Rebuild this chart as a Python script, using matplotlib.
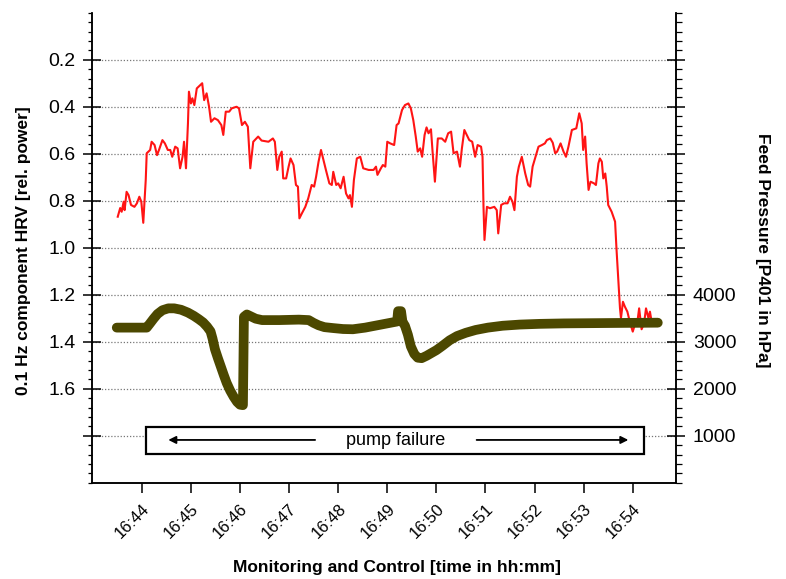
import matplotlib
matplotlib.use("Agg")
import matplotlib.pyplot as plt
from matplotlib.patches import Rectangle
from matplotlib.ticker import FixedLocator, MultipleLocator, FuncFormatter

plt.rcParams['font.family'] = ['Liberation Sans', 'DejaVu Sans']

# time axis in minutes after 16:00
tick_minutes = [44, 45, 46, 47, 48, 49, 50, 51, 52, 53, 54]
tick_labels = ['16:44', '16:45', '16:46', '16:47', '16:48', '16:49',
               '16:50', '16:51', '16:52', '16:53', '16:54']

# 0.1 Hz HRV component (rel. power), left axis (inverted)
hrv_time = [43.51, 43.56, 43.59, 43.63, 43.65, 43.69, 43.73, 43.78, 43.85, 43.90,
            43.95, 43.99, 44.03, 44.08, 44.10, 44.17, 44.20, 44.26, 44.31, 44.35,
            44.42, 44.47, 44.53, 44.58, 44.62, 44.68, 44.73, 44.78, 44.83, 44.86,
            44.90, 44.94, 44.96, 45.00, 45.03, 45.07, 45.12, 45.19, 45.23, 45.27,
            45.32, 45.37, 45.41, 45.48, 45.55, 45.62, 45.66, 45.71, 45.78, 45.83,
            45.93, 45.98, 46.04, 46.10, 46.16, 46.21, 46.27, 46.37, 46.44, 46.58,
            46.67, 46.71, 46.76, 46.80, 46.85, 46.88, 46.94, 46.99, 47.03, 47.09,
            47.14, 47.18, 47.21, 47.26, 47.33, 47.39, 47.46, 47.51, 47.55, 47.60,
            47.65, 47.70, 47.75, 47.82, 47.87, 47.90, 47.96, 48.00, 48.05, 48.11,
            48.16, 48.21, 48.24, 48.28, 48.32, 48.38, 48.45, 48.51, 48.62, 48.72,
            48.77, 48.80, 48.87, 48.91, 48.96, 49.00, 49.06, 49.14, 49.19, 49.23,
            49.30, 49.36, 49.43, 49.48, 49.53, 49.58, 49.62, 49.67, 49.71, 49.76,
            49.80, 49.84, 49.89, 49.92, 49.97, 50.03, 50.11, 50.18, 50.24, 50.30,
            50.35, 50.42, 50.48, 50.52, 50.57, 50.62, 50.67, 50.73, 50.79, 50.84,
            50.91, 50.94, 50.96, 50.98, 51.03, 51.09, 51.18, 51.23, 51.26, 51.32,
            51.38, 51.45, 51.50, 51.55, 51.59, 51.64, 51.68, 51.74, 51.81, 51.87,
            51.91, 51.96, 52.01, 52.08, 52.15, 52.21, 52.25, 52.32, 52.37, 52.42,
            52.46, 52.53, 52.59, 52.64, 52.69, 52.76, 52.85, 52.87, 52.91, 52.96,
            52.99, 53.03, 53.06, 53.10, 53.14, 53.21, 53.25, 53.30, 53.33, 53.37,
            53.40, 53.44, 53.47, 53.50, 53.57, 53.64, 53.67, 53.71, 53.74, 53.76,
            53.80, 53.84, 53.89, 53.94, 54.00, 54.04, 54.09, 54.13, 54.18, 54.23,
            54.27, 54.32, 54.35, 54.39, 54.45]
hrv_power = [0.868, 0.831, 0.847, 0.804, 0.840, 0.762, 0.776, 0.818, 0.826, 0.811,
             0.783, 0.804, 0.894, 0.712, 0.598, 0.584, 0.549, 0.563, 0.606, 0.584,
             0.542, 0.556, 0.584, 0.584, 0.613, 0.570, 0.577, 0.662, 0.613, 0.549,
             0.662, 0.471, 0.336, 0.386, 0.364, 0.393, 0.322, 0.308, 0.300, 0.372,
             0.343, 0.400, 0.464, 0.449, 0.457, 0.478, 0.520, 0.421, 0.421, 0.407,
             0.400, 0.407, 0.478, 0.464, 0.485, 0.662, 0.549, 0.527, 0.544, 0.549,
             0.535, 0.549, 0.669, 0.613, 0.591, 0.705, 0.705, 0.655, 0.620, 0.648,
             0.733, 0.740, 0.875, 0.854, 0.826, 0.790, 0.733, 0.740, 0.698, 0.634,
             0.584, 0.627, 0.669, 0.726, 0.733, 0.677, 0.733, 0.726, 0.747, 0.698,
             0.769, 0.790, 0.776, 0.826, 0.712, 0.620, 0.613, 0.662, 0.669, 0.669,
             0.655, 0.690, 0.662, 0.648, 0.655, 0.549, 0.556, 0.563, 0.478, 0.471,
             0.414, 0.393, 0.386, 0.407, 0.457, 0.527, 0.591, 0.577, 0.613, 0.520,
             0.488, 0.513, 0.496, 0.584, 0.719, 0.535, 0.535, 0.549, 0.513, 0.506,
             0.598, 0.591, 0.655, 0.577, 0.499, 0.520, 0.542, 0.549, 0.613, 0.563,
             0.570, 0.613, 0.826, 0.967, 0.826, 0.832, 0.826, 0.840, 0.939, 0.818,
             0.811, 0.811, 0.783, 0.804, 0.840, 0.698, 0.655, 0.613, 0.684, 0.733,
             0.740, 0.655, 0.620, 0.570, 0.563, 0.556, 0.542, 0.535, 0.553, 0.598,
             0.591, 0.556, 0.591, 0.613, 0.570, 0.499, 0.492, 0.471, 0.428, 0.471,
             0.584, 0.527, 0.641, 0.754, 0.719, 0.726, 0.733, 0.641, 0.620, 0.634,
             0.705, 0.684, 0.740, 0.818, 0.847, 0.889, 1.010, 1.151, 1.258, 1.300,
             1.230, 1.251, 1.272, 1.315, 1.357, 1.329, 1.322, 1.258, 1.347, 1.322,
             1.258, 1.300, 1.272, 1.322, 1.315]

# feed pressure P401 (hPa), right axis
pressure_time = [43.49, 44.10, 44.16, 44.24, 44.32, 44.42, 44.54, 44.66, 44.80, 44.94,
                 45.06, 45.16, 45.25, 45.33, 45.40, 45.44, 45.49, 45.55, 45.61, 45.67,
                 45.73, 45.80, 45.87, 45.94, 46.00, 46.06, 46.08, 46.14, 46.22, 46.32,
                 46.45, 46.80, 47.20, 47.40, 47.50, 47.60, 47.72, 47.90, 48.10, 48.30,
                 48.55, 48.80, 49.05, 49.20, 49.22, 49.28, 49.31, 49.36, 49.42, 49.48,
                 49.55, 49.62, 49.70, 49.80, 49.90, 50.00, 50.12, 50.27, 50.42, 50.60,
                 50.80, 51.05, 51.35, 51.70, 52.10, 52.60, 53.20, 53.80, 54.51]
pressure_hpa = [3300, 3300, 3380, 3490, 3590, 3670, 3710, 3710, 3680, 3620,
                3550, 3480, 3410, 3320, 3220, 3070, 2840, 2650, 2470, 2290,
                2120, 1960, 1830, 1720, 1660, 1650, 3530, 3580, 3540, 3490,
                3460, 3460, 3470, 3460, 3400, 3350, 3310, 3290, 3270, 3265,
                3300, 3350, 3400, 3430, 3650, 3650, 3420, 3340, 3150, 2900,
                2740, 2660, 2650, 2700, 2760, 2820, 2910, 3030, 3120, 3190,
                3250, 3300, 3340, 3365, 3380, 3390, 3395, 3400, 3405]

left_ticks = [0.2, 0.4, 0.6, 0.8, 1.0, 1.2, 1.4, 1.6, 1.8]
right_ticks = [1000, 2000, 3000, 4000, 5000, 6000, 7000, 8000, 9000]

fig = plt.figure(figsize=(7.86, 5.79), dpi=100)
ax = fig.add_axes([0.1167, 0.1663, 0.7433, 0.8117])
ax2 = ax.twinx()

ax.plot(hrv_time, hrv_power, color='#ff1414', lw=1.5, zorder=4)
ax2.plot(pressure_time, pressure_hpa, color='#4c4800', lw=7,
         solid_capstyle='round', solid_joinstyle='round', zorder=4)

ax.set_xlim(42.98, 54.88)
ax.set_ylim(2.0, 0.0)
ax2.set_ylim(0, 10000)

# grid lines
for v in left_ticks:
    ax.axhline(v, color='#777777', lw=0.9, ls=(0, (1, 1.5)), zorder=1)

# pump failure box
ax.add_patch(Rectangle((44.08, 1.762), 10.14, 0.116, facecolor='white',
                       edgecolor='black', lw=1.6, zorder=3))
ax.text(49.16, 1.82, 'pump failure', ha='center', va='center', fontsize=13, zorder=5)
arrow = dict(arrowstyle='-|>', color='black', lw=1.3, mutation_scale=11, shrinkA=0, shrinkB=0)
ax.annotate('', xy=(44.54, 1.818), xytext=(47.53, 1.818), arrowprops=arrow, zorder=5)
ax.annotate('', xy=(53.91, 1.818), xytext=(50.82, 1.818), arrowprops=arrow, zorder=5)

# x axis
ax.set_xticks(tick_minutes)
ax.set_xticklabels(tick_labels, rotation=45, ha='right', rotation_mode='anchor', fontsize=12)
ax.tick_params(axis='x', direction='out', length=7, width=1.1, pad=6)

# left axis
ax.yaxis.set_major_locator(FixedLocator(left_ticks))
ax.yaxis.set_minor_locator(MultipleLocator(0.04))
ax.yaxis.set_major_formatter(FuncFormatter(lambda v, p: '' if v > 1.7 else '%.1f' % v))
ax.tick_params(axis='y', which='major', direction='inout', length=12.5, width=1.1,
               pad=5.5, labelsize=14)
ax.tick_params(axis='y', which='minor', direction='out', length=3.2, width=0.9)

# right axis
ax2.yaxis.set_major_locator(FixedLocator(right_ticks))
ax2.yaxis.set_minor_locator(MultipleLocator(200))
ax2.yaxis.set_major_formatter(FuncFormatter(lambda v, p: '%d' % v if v <= 4000 else ''))
ax2.tick_params(axis='y', which='major', direction='inout', length=12.5, width=1.1,
                pad=6, labelsize=14)
ax2.tick_params(axis='y', which='minor', direction='out', length=4, width=0.9)

for a in (ax, ax2):
    a.spines['top'].set_visible(False)
    for s in ('left', 'right', 'bottom'):
        a.spines[s].set_linewidth(1.1)

fig.text(0.0293, 0.568, '0.1 Hz component HRV [rel. power]', rotation=90,
         ha='center', va='center', fontsize=12.5, fontweight='bold')
fig.text(0.9695, 0.568, 'Feed Pressure [P401 in hPa]', rotation=270,
         ha='center', va='center', fontsize=12.5, fontweight='bold')
fig.text(0.5045, 0.0195, 'Monitoring and Control [time in hh:mm]',
         ha='center', va='center', fontsize=12.5, fontweight='bold')

fig.savefig('out.png', dpi=100)
